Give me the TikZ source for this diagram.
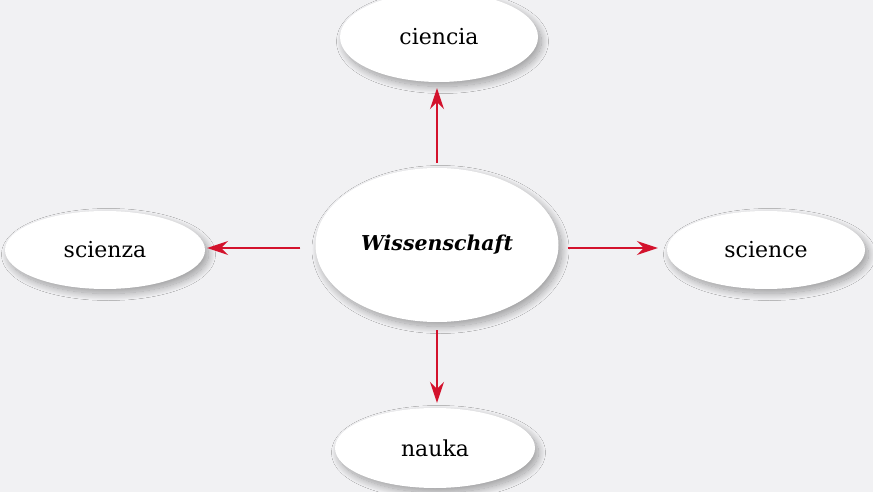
\documentclass[tikz,border=0pt]{standalone}
\usepackage{fontspec}
\setmainfont{DejaVu Serif}
\usetikzlibrary{shapes.geometric,arrows.meta,shadows.blur}
\definecolor{bgcol}{HTML}{F1F1F3}
\definecolor{arrred}{HTML}{D3122C}
\tikzset{
  bubble/.style={ellipse, fill=white, inner sep=0pt, font=\fontsize{22}{26}\selectfont,
    blur shadow={shadow xshift=3.5pt, shadow yshift=-4.5pt, shadow blur steps=20, shadow blur radius=7pt, shadow opacity=35}},
  link/.style={draw=arrred, line width=1.3pt, -{Stealth[length=21pt,width=14pt,inset=7pt]}}
}
\begin{document}
\begin{tikzpicture}[x=1pt,y=-1pt]
\fill[bgcol] (0,0) rectangle (873,492);
\useasboundingbox (0,0) rectangle (873,492);
\node[bubble, minimum width=243pt, minimum height=154pt, font=\fontsize{20.5}{24}\selectfont\bfseries\itshape] (c) at (437,245) {Wissenschaft};
\node[bubble, minimum width=198pt, minimum height=90pt] (t) at (439,37) {ciencia};
\node[bubble, minimum width=200pt, minimum height=78pt] (l) at (105,250) {scienza};
\node[bubble, minimum width=198pt, minimum height=78pt] (r) at (766,250) {science};
\node[bubble, minimum width=200pt, minimum height=80pt] (b) at (435,448) {nauka};
\draw[link, shorten <=5pt, shorten >=6pt] (c.north -| 437,0) -- (t.south -| 437,0);
\draw[link, shorten <=15pt, shorten >=2pt] (c.west |- 0,248) -- (l.east |- 0,248);
\draw[link, shorten <=9pt, shorten >=9pt] (c.east |- 0,248) -- (r.west |- 0,248);
\draw[link, shorten <=8pt, shorten >=5pt] (c.south -| 437,0) -- (b.north -| 437,0);
\end{tikzpicture}
\end{document}
